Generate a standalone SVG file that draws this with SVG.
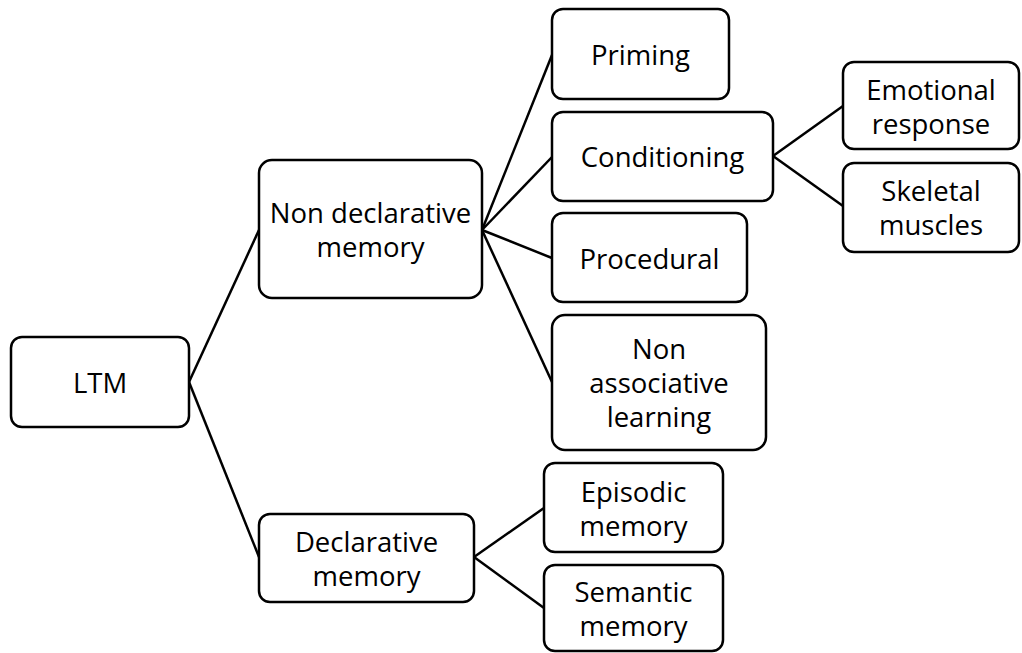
<svg xmlns="http://www.w3.org/2000/svg" width="1022" height="653" viewBox="0 0 1022 653">
<style>
.b{fill:#fff;stroke:#000;stroke-width:2.5}
.t{font-family:"Open Sans","Liberation Sans",sans-serif;font-size:27.5px;fill:#000;text-anchor:middle;dominant-baseline:central}
.c line{stroke:#000;stroke-width:2.5}
</style>
<rect width="1022" height="653" fill="#fff"/>
<g class="c" id="connectors">
<line x1="189" y1="382" x2="259" y2="230"/>
<line x1="189" y1="382" x2="259" y2="557"/>
<line x1="482" y1="230" x2="552" y2="55"/>
<line x1="482" y1="230" x2="552" y2="157"/>
<line x1="482" y1="230" x2="552" y2="258"/>
<line x1="482" y1="230" x2="552" y2="382"/>
<line x1="474" y1="557" x2="544" y2="508"/>
<line x1="474" y1="557" x2="544" y2="608"/>
<line x1="773" y1="156" x2="843" y2="106"/>
<line x1="773" y1="156" x2="843" y2="206"/>
</g>
<g id="ltm"><rect class="b" x="11" y="337" width="178" height="90" rx="11"/><text class="t" x="100" y="382">LTM</text></g>
<g id="nondecl"><rect class="b" x="259" y="160" width="223" height="138" rx="13"/><text class="t" x="370.5" y="212">Non declarative</text><text class="t" x="370.5" y="246">memory</text></g>
<g id="decl"><rect class="b" x="259" y="514" width="215" height="88" rx="11"/><text class="t" x="366.5" y="541">Declarative</text><text class="t" x="366.5" y="575">memory</text></g>
<g id="priming"><rect class="b" x="552" y="9" width="177" height="90" rx="11"/><text class="t" x="640.5" y="54">Priming</text></g>
<g id="conditioning"><rect class="b" x="552" y="112" width="221" height="89" rx="11"/><text class="t" x="662.5" y="156">Conditioning</text></g>
<g id="procedural"><rect class="b" x="552" y="213" width="195" height="89" rx="11"/><text class="t" x="649.5" y="258">Procedural</text></g>
<g id="nonassoc"><rect class="b" x="552" y="315" width="214" height="135" rx="13"/><text class="t" x="659" y="348">Non</text><text class="t" x="659" y="382">associative</text><text class="t" x="659" y="416">learning</text></g>
<g id="episodic"><rect class="b" x="544" y="463" width="179" height="89" rx="11"/><text class="t" x="633.5" y="491">Episodic</text><text class="t" x="633.5" y="525">memory</text></g>
<g id="semantic"><rect class="b" x="544" y="565" width="179" height="86" rx="11"/><text class="t" x="633.5" y="591">Semantic</text><text class="t" x="633.5" y="625">memory</text></g>
<g id="emotional"><rect class="b" x="843" y="62" width="176" height="87" rx="11"/><text class="t" x="931" y="89">Emotional</text><text class="t" x="931" y="123">response</text></g>
<g id="skeletal"><rect class="b" x="843" y="163" width="176" height="89" rx="11"/><text class="t" x="931" y="190">Skeletal</text><text class="t" x="931" y="224">muscles</text></g>
</svg>
